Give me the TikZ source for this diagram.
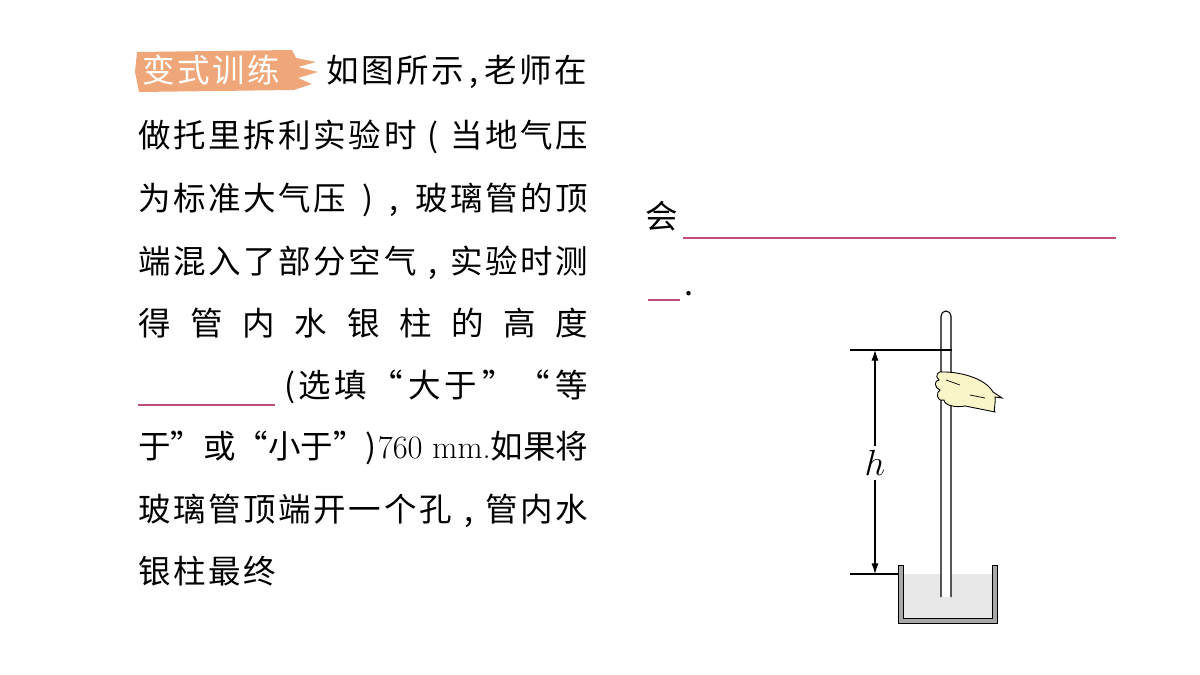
\documentclass[tikz,border=0pt]{standalone}
\usepackage{fontspec}
\newfontfamily\cjk[LetterSpace=8]{Noto Sans CJK SC}
\usetikzlibrary{arrows.meta}
\definecolor{badge}{HTML}{EFA77A}
\definecolor{blankline}{HTML}{C04C7E}
\definecolor{hand}{HTML}{FAF5C8}
\definecolor{wallgray}{HTML}{A8A8A8}
\definecolor{liquid}{HTML}{E8E8E8}
\tikzset{
  line/.style={anchor=base west,inner sep=0pt,font=\cjk\fontsize{18.5pt}{20pt}\selectfont},
  blank/.style={color=blankline,line width=0.6pt},
  dim/.style={line width=0.6pt},
}
\begin{document}
\begin{tikzpicture}[x=0.02cm,y=-0.02cm]
\useasboundingbox (0,0) rectangle (1200,675);

% badge
\fill[badge] (137,52) -- (292,50) -- (296,58) -- (316,62) -- (298,67) -- (318,72) -- (298,78) -- (312,84) -- (294,90) -- (139,92) -- (135,72) -- cycle;
\node[line,text=white] (badge) at (142,83) {变式训练};

% text lines
\node[line] (l1) at (326,83) {如图所示\,,\,老师在};
\node[line] (l2) at (138,148) {\hbox to 9cm{做托里拆利实验时\hfil(\hfil 当地气压}};
\node[line] (l3) at (138,211) {\hbox to 9cm{为标准大气压\hfil)\hfil,\hfil 玻璃管的顶}};
\node[line] (l4) at (138,274) {\hbox to 9cm{端混入了部分空气\hfil,\hfil 实验时测}};
\node[line] (l5) at (138,336) {\hbox to 9cm{得\hfill 管\hfill 内\hfill 水\hfill 银\hfill 柱\hfill 的\hfill 高\hfill 度}};
\node[line] (l6) at (284,398) {\hbox to 6.08cm{(\hfill 选\hfill 填\hfill “\,大\hfill 于\,”\hfill “\,等}};
\node[line,font=\cjk\addfontfeature{LetterSpace=0}\fontsize{18.5pt}{20pt}\selectfont] (l7) at (138,459) {\hbox to 9cm{于”或“小于”)\hfil{\rmfamily 760 mm.}如果将}};
\node[line] (l8) at (138,521) {\hbox to 9cm{玻璃管顶端开一个孔\hfil,\hfil 管内水}};
\node[line] (l9) at (138,583) {银柱最终};
\draw[blank] (138,405) -- (275,405);

\node[line] (l10) at (645,229) {会};
\draw[blank] (683,238) -- (1116,238);
\draw[blank] (648,300) -- (680,300);
\node[line] (dot) at (684,296) {.};

% trough and liquid
\fill[liquid] (903,574) rectangle (992,618);
\draw[wallgray,line width=3pt] (900.5,565) -- (900.5,620.5) -- (994.5,620.5) -- (994.5,565);
\draw[line width=0.5pt] (898,565) -- (898,623) -- (997,623) -- (997,565) -- (992,565) -- (992,618) -- (903,618) -- (903,565) -- cycle;

% tube
\fill[white] (941,597) -- (941,316) arc (180:360:5) -- (951,597) -- cycle;
\draw[line width=0.6pt] (941,597) -- (941,316) arc (180:360:5) -- (951,597);

% hand
\draw[fill=hand,line width=0.5pt] (944,372) .. controls (960,372) and (985,378) .. (993,392)
  -- (1002,398) -- (995,397) .. controls (996,405) and (993,410) .. (995,412)
  -- (965,406) .. controls (955,408) and (944,405) .. (944,400)
  .. controls (936,402) and (936,392) .. (940,390)
  .. controls (934,388) and (934,380) .. (939,380)
  .. controls (934,376) and (938,370) .. (944,372) -- cycle;
\draw[line width=0.4pt] (946,380) -- (960,385) (970,395) -- (985,398);

% height
\coordinate (top) at (875,350);
\coordinate (bot) at (875,574);
\draw[dim] (850,350) -- (952,350);
\draw[dim] (850,574) -- (898,574);
\node[font=\itshape\fontsize{22pt}{24pt}\selectfont,fill=white,inner sep=2pt] (h) at (875,463) {$h$};
\draw[dim,-{Latex[length=6pt,width=4pt]}] (h) -- (top);
\draw[dim,-{Latex[length=6pt,width=4pt]}] (h) -- (bot);
\end{tikzpicture}
\end{document}
